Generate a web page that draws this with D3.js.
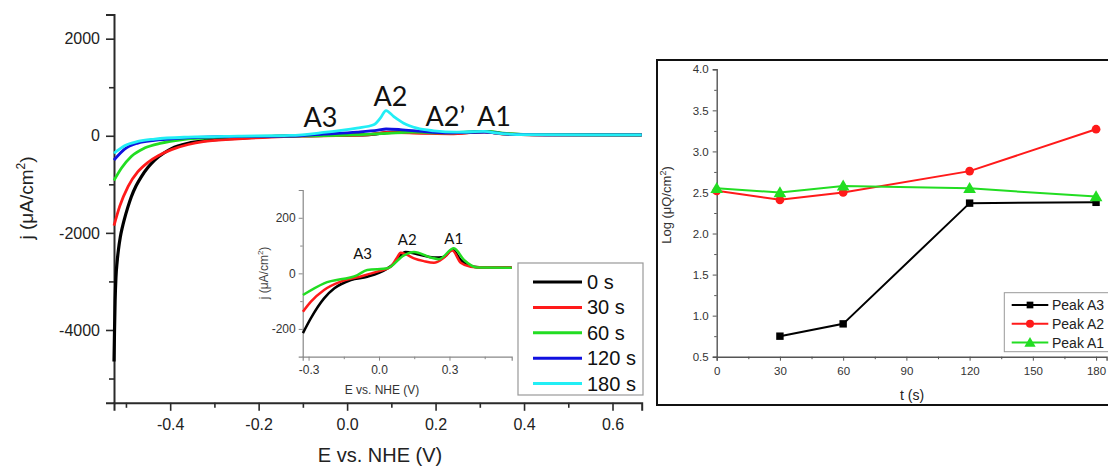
<!DOCTYPE html>
<html><head><meta charset="utf-8">
<script src="https://cdn.jsdelivr.net/npm/d3@7"></script>
<style>
html,body{margin:0;padding:0;background:#fff;}
svg{display:block;font-family:"Liberation Sans",Arial,sans-serif;}
</style></head>
<body>
<svg id="c" width="1108" height="467"></svg>
<script>
// ===== Main LSV panel data: [E (V vs NHE), j (µA/cm²)] =====
const seriesNames = ["0 s","30 s","60 s","120 s","180 s"];
const seriesColors = ["#000000","#ff1a1a","#22dd22","#1010e0","#22eef5"];
const main0s = [[-0.527,-4650],[-0.5258,-4000],[-0.5245,-3400],[-0.5225,-2900],[-0.52,-2600],[-0.517,-2350],[-0.513,-2100],[-0.508,-1880],[-0.503,-1700],[-0.496,-1480],[-0.488,-1260],[-0.477,-1030],[-0.465,-840],[-0.45,-650],[-0.435,-500],[-0.415,-360],[-0.397,-265],[-0.359,-155],[-0.322,-100],[-0.246,-50],[-0.171,-15],[-0.1,0],[-0.05,8],[0.0,15],[0.05,25],[0.1,70],[0.15,72],[0.24,55],[0.31,85],[0.35,45],[0.42,22],[0.666,20]];
const main30s = [[-0.527,-1850],[-0.514,-1450],[-0.495,-1040],[-0.473,-740],[-0.45,-545],[-0.427,-410],[-0.397,-285],[-0.359,-180],[-0.322,-116],[-0.246,-62],[-0.171,-27],[-0.1,-8],[0.0,8],[0.05,25],[0.092,72],[0.17,52],[0.234,40],[0.31,82],[0.35,42],[0.43,21],[0.666,20]];
const main60s = [[-0.527,-920],[-0.51,-664],[-0.488,-425],[-0.458,-253],[-0.42,-151],[-0.375,-82],[-0.322,-48],[-0.246,-14],[-0.13,-5],[0.0,15],[0.09,50],[0.148,76],[0.22,58],[0.315,88],[0.36,48],[0.43,22],[0.666,20]];
const main120s = [[-0.527,-500],[-0.503,-274],[-0.473,-151],[-0.435,-96],[-0.382,-55],[-0.322,-27],[-0.246,-14],[-0.13,-8],[-0.053,34],[0.022,75],[0.07,116],[0.088,140],[0.12,128],[0.17,89],[0.23,60],[0.31,78],[0.37,30],[0.45,20],[0.666,20]];
const main180s = [[-0.527,-360],[-0.503,-205],[-0.473,-116],[-0.435,-68],[-0.359,-27],[-0.246,-7],[-0.129,7],[-0.053,68],[0.022,158],[0.06,226],[0.075,363],[0.088,520],[0.105,400],[0.128,260],[0.158,158],[0.196,103],[0.248,75],[0.309,90],[0.339,55],[0.4,22],[0.666,20]];
const mainSeries = [main0s, main30s, main60s, main120s, main180s];
const mainXTicks = [-0.4,-0.2,0.0,0.2,0.4,0.6];
const mainXMinor = [-0.5,-0.3,-0.1,0.1,0.3,0.5];
const mainYTicks = [-4000,-2000,0,2000];
const mainYMinor = [-5000,-3000,-1000,1000];
const mainPeakLabels = [["A3",-0.06],["A2",0.098],["A2\u2019",0.222],["A1",0.332]];

// ===== Inset data (0, 30, 60 s) =====
const inset0s = [[-0.324,-215],[-0.29,-161],[-0.234,-90],[-0.19,-54],[-0.12,-24],[-0.05,-12],[0.036,18],[0.064,36],[0.1,72],[0.113,77],[0.163,69],[0.234,57],[0.277,59],[0.312,86],[0.348,48],[0.404,24],[0.45,21],[0.565,21]];
const inset30s = [[-0.324,-138],[-0.29,-102],[-0.234,-60],[-0.163,-30],[-0.092,-14],[-0.007,6],[0.05,24],[0.075,54],[0.092,74],[0.113,69],[0.149,54],[0.191,44],[0.234,38],[0.277,57],[0.312,82],[0.348,38],[0.39,24],[0.45,21],[0.565,21]];
const inset60s = [[-0.324,-78],[-0.234,-36],[-0.092,-6],[-0.05,12],[0.036,18],[0.106,65],[0.149,77],[0.22,57],[0.255,51],[0.319,90],[0.362,48],[0.419,21],[0.565,20]];
const insetSeries = [inset0s, inset30s, inset60s];
const insetXTicks = [-0.3,0.0,0.3];
const insetXMinor = [-0.15,0.15,0.45];
const insetYTicks = [-200,0,200];
const insetYMinor = [-100,100];
const insetPeakLabels = [["A3",-0.07,50],["A2",0.12,101],["A1",0.318,106]];

// ===== Right panel: log charge vs time =====
const peakTimes = [0,30,60,120,180];
const peakA3 = [null,0.75,0.90,2.37,2.38];
const peakA2 = [2.52,2.41,2.50,2.76,3.27];
const peakA1 = [2.55,2.50,2.58,2.55,2.45];
const peakNames = ["Peak A3","Peak A2","Peak A1"];
const peakColors = ["#000000","#ff1a1a","#22dd22"];
const peakSymbols = [d3.symbolSquare, d3.symbolCircle, d3.symbolTriangle];
const rightXTicks = [0,30,60,90,120,150,180];
const rightYTicks = [0.5,1.0,1.5,2.0,2.5,3.0,3.5,4.0];

const svg = d3.select("#c");
const axisCol = "#2a2a2a";

// ---------- MAIN ----------
const mx = d3.scaleLinear().domain([-0.527,0.666]).range([114,641.7]);
const my = d3.scaleLinear().domain([-5500,2500]).range([402.8,14.4]);
const gM = svg.append("g");
const xa = gM.append("g").attr("transform",`translate(0,${my.range()[0]})`)
  .call(d3.axisBottom(mx).tickValues(mainXTicks).tickSize(8).tickPadding(8).tickFormat(d=>d.toFixed(1)));
gM.append("g").attr("transform",`translate(0,${my.range()[0]})`)
  .call(d3.axisBottom(mx).tickValues(mainXMinor).tickSize(5).tickFormat(""))
  .call(g=>g.select(".domain").remove());
const ya = gM.append("g").attr("transform",`translate(${mx.range()[0]},0)`)
  .call(d3.axisLeft(my).tickValues(mainYTicks).tickSize(8).tickPadding(6).tickFormat(d=>String(d)));
gM.append("g").attr("transform",`translate(${mx.range()[0]},0)`)
  .call(d3.axisLeft(my).tickValues(mainYMinor).tickSize(5).tickFormat(""))
  .call(g=>g.select(".domain").remove());
gM.selectAll(".domain").attr("stroke",axisCol).attr("stroke-width",2);
gM.selectAll(".tick line").attr("stroke",axisCol).attr("stroke-width",1.6);
gM.selectAll(".tick text").attr("font-size",16).attr("fill","#222").attr("font-family","Liberation Sans, Arial, sans-serif");

const lineM = d3.line().x(d=>mx(d[0])).y(d=>my(d[1])).curve(d3.curveMonotoneX);
mainSeries.forEach((s,i)=>{
  gM.append("path").datum(s).attr("d",lineM).attr("fill","none")
    .attr("stroke",seriesColors[i]).attr("stroke-width",i===0?3.2:2.8).attr("stroke-linejoin","round");
});
// peak labels
const peakY = {"A3":127,"A2":106,"A2\u2019":126,"A1":126};
mainPeakLabels.forEach(([t,e])=>{
  gM.append("text").attr("x",mx(e)).attr("y",peakY[t]).attr("text-anchor","middle")
    .attr("font-family","Lato, 'Open Sans', sans-serif").attr("font-size",27).attr("fill","#111").text(t);
});
// axis titles
const yt = gM.append("text").attr("transform","translate(33,198) rotate(-90)").attr("text-anchor","middle")
  .attr("font-size",19).attr("fill","#222");
yt.append("tspan").text("j (\u03bcA/cm");
yt.append("tspan").attr("font-size",12).attr("dy",-8).text("2");
yt.append("tspan").attr("dy",8).text(")");
gM.append("text").attr("x",380).attr("y",462).attr("text-anchor","middle").attr("font-size",20).attr("fill","#222").text("E vs. NHE (V)");

// legend
const lg = gM.append("g");
lg.append("rect").attr("x",518).attr("y",263).attr("width",125).attr("height",132).attr("fill","#fff").attr("stroke","#999").attr("stroke-width",1.2);
seriesNames.forEach((n,i)=>{
  const y = 282 + i*25.4;
  lg.append("line").attr("x1",533).attr("x2",582).attr("y1",y).attr("y2",y).attr("stroke",seriesColors[i]).attr("stroke-width",3);
  lg.append("text").attr("x",587).attr("y",y+7).attr("font-size",20).attr("fill","#111").text(n);
});

// ---------- INSET ----------
const ix = d3.scaleLinear().domain([-0.325,0.565]).range([302.7,511.7]);
const iy = d3.scaleLinear().domain([-300,300]).range([356.7,190]);
const gI = svg.append("g");
gI.append("g").attr("transform",`translate(0,${iy.range()[0]})`)
  .call(d3.axisBottom(ix).tickValues(insetXTicks).tickSize(4).tickPadding(5).tickFormat(d=>d.toFixed(1)));
gI.append("g").attr("transform",`translate(0,${iy.range()[0]})`)
  .call(d3.axisBottom(ix).tickValues(insetXMinor).tickSize(2.5).tickFormat(""))
  .call(g=>g.select(".domain").remove());
gI.append("g").attr("transform",`translate(${ix.range()[0]},0)`)
  .call(d3.axisLeft(iy).tickValues(insetYTicks).tickSize(4).tickPadding(3).tickFormat(d=>String(d)));
gI.append("g").attr("transform",`translate(${ix.range()[0]},0)`)
  .call(d3.axisLeft(iy).tickValues(insetYMinor).tickSize(2.5).tickFormat(""))
  .call(g=>g.select(".domain").remove());
gI.selectAll(".domain").attr("stroke","#888").attr("stroke-width",1.2);
gI.selectAll(".tick line").attr("stroke","#888").attr("stroke-width",1);
gI.selectAll(".tick text").attr("font-size",12).attr("fill","#333").attr("font-family","Liberation Sans, Arial, sans-serif");
const lineI = d3.line().x(d=>ix(d[0])).y(d=>iy(d[1])).curve(d3.curveMonotoneX);
insetSeries.forEach((s,i)=>{
  gI.append("path").datum(s).attr("d",lineI).attr("fill","none")
    .attr("stroke",seriesColors[i]).attr("stroke-width",2.5).attr("stroke-linejoin","round");
});
insetPeakLabels.forEach(([t,e,j])=>{
  gI.append("text").attr("x",ix(e)).attr("y",iy(j)).attr("text-anchor","middle")
    .attr("font-family","Lato, 'Open Sans', sans-serif").attr("font-size",15).attr("fill","#111").text(t);
});
const iyt = gI.append("text").attr("transform","translate(268,273) rotate(-90)").attr("text-anchor","middle")
  .attr("font-size",12).attr("fill","#444");
iyt.append("tspan").text("j (\u03bcA/cm");
iyt.append("tspan").attr("font-size",8).attr("dy",-5).text("2");
iyt.append("tspan").attr("dy",5).text(")");
gI.append("text").attr("x",382).attr("y",394).attr("text-anchor","middle").attr("font-size",12).attr("fill","#333").text("E vs. NHE (V)");

// ---------- RIGHT PANEL ----------
const gR = svg.append("g");
gR.append("rect").attr("x",657).attr("y",60).attr("width",470).attr("height",345).attr("fill","none").attr("stroke","#111").attr("stroke-width",2);
const rx = d3.scaleLinear().domain([0,185]).range([716.7,1106.6]);
const ry = d3.scaleLinear().domain([0.5,4.0]).range([356.7,69.3]);
gR.append("g").attr("transform",`translate(0,${ry.range()[0]})`)
  .call(d3.axisBottom(rx).tickValues(rightXTicks).tickSize(4).tickPadding(6).tickFormat(d3.format("d")));
gR.append("g").attr("transform",`translate(0,${ry.range()[0]})`)
  .call(d3.axisBottom(rx).tickValues(d3.range(15,185,30)).tickSize(2.5).tickFormat(""))
  .call(g=>g.select(".domain").remove());
gR.append("g").attr("transform",`translate(${rx.range()[0]},0)`)
  .call(d3.axisLeft(ry).tickValues(rightYTicks).tickSize(4).tickPadding(4).tickFormat(d3.format(".1f")));
gR.append("g").attr("transform",`translate(${rx.range()[0]},0)`)
  .call(d3.axisLeft(ry).tickValues(d3.range(0.75,4.0,0.5)).tickSize(2.5).tickFormat(""))
  .call(g=>g.select(".domain").remove());
gR.selectAll(".domain").attr("stroke","#555").attr("stroke-width",1.4);
gR.selectAll(".tick line").attr("stroke","#555").attr("stroke-width",1);
gR.selectAll(".tick text").attr("font-size",11.5).attr("fill","#333").attr("font-family","Liberation Sans, Arial, sans-serif");

const peakSeries = [peakA3, peakA2, peakA1];
const lineR = d3.line().defined(d=>d[1]!==null).x(d=>rx(d[0])).y(d=>ry(d[1]));
peakSeries.forEach((vals,i)=>{
  const pts = peakTimes.map((t,k)=>[t,vals[k]]);
  gR.append("path").datum(pts).attr("d",lineR).attr("fill","none").attr("stroke",peakColors[i]).attr("stroke-width",2);
  const sz = i===0?55:(i===1?60:70);
  gR.selectAll(null).data(pts.filter(d=>d[1]!==null)).enter().append("path")
    .attr("transform",d=>`translate(${rx(d[0])},${ry(d[1])+(i===2?1:0)})`)
    .attr("d",d3.symbol().type(peakSymbols[i]).size(sz)).attr("fill",peakColors[i]);
});
const ryt = gR.append("text").attr("transform","translate(671,205) rotate(-90)").attr("text-anchor","middle")
  .attr("font-size",13).attr("fill","#333");
ryt.append("tspan").text("Log (\u03bcQ/cm");
ryt.append("tspan").attr("font-size",9).attr("dy",-5).text("2");
ryt.append("tspan").attr("dy",5).text(")");
gR.append("text").attr("x",912).attr("y",400).attr("text-anchor","middle").attr("font-size",14).attr("fill","#222").text("t (s)");

const lr = gR.append("g");
lr.append("rect").attr("x",1004.3).attr("y",292.7).attr("width",120).attr("height",59).attr("fill","#fff").attr("stroke","#999").attr("stroke-width",1);
peakNames.forEach((n,i)=>{
  const y = 305 + i*18.8;
  lr.append("line").attr("x1",1011.7).attr("x2",1048.3).attr("y1",y).attr("y2",y).attr("stroke",peakColors[i]).attr("stroke-width",2);
  lr.append("path").attr("transform",`translate(1030,${y+(i===2?1:0)})`).attr("d",d3.symbol().type(peakSymbols[i]).size(i===0?45:(i===1?50:55))).attr("fill",peakColors[i]);
  lr.append("text").attr("x",1052).attr("y",y+5).attr("font-size",14).attr("fill","#222").text(n);
});
</script>
</body></html>
